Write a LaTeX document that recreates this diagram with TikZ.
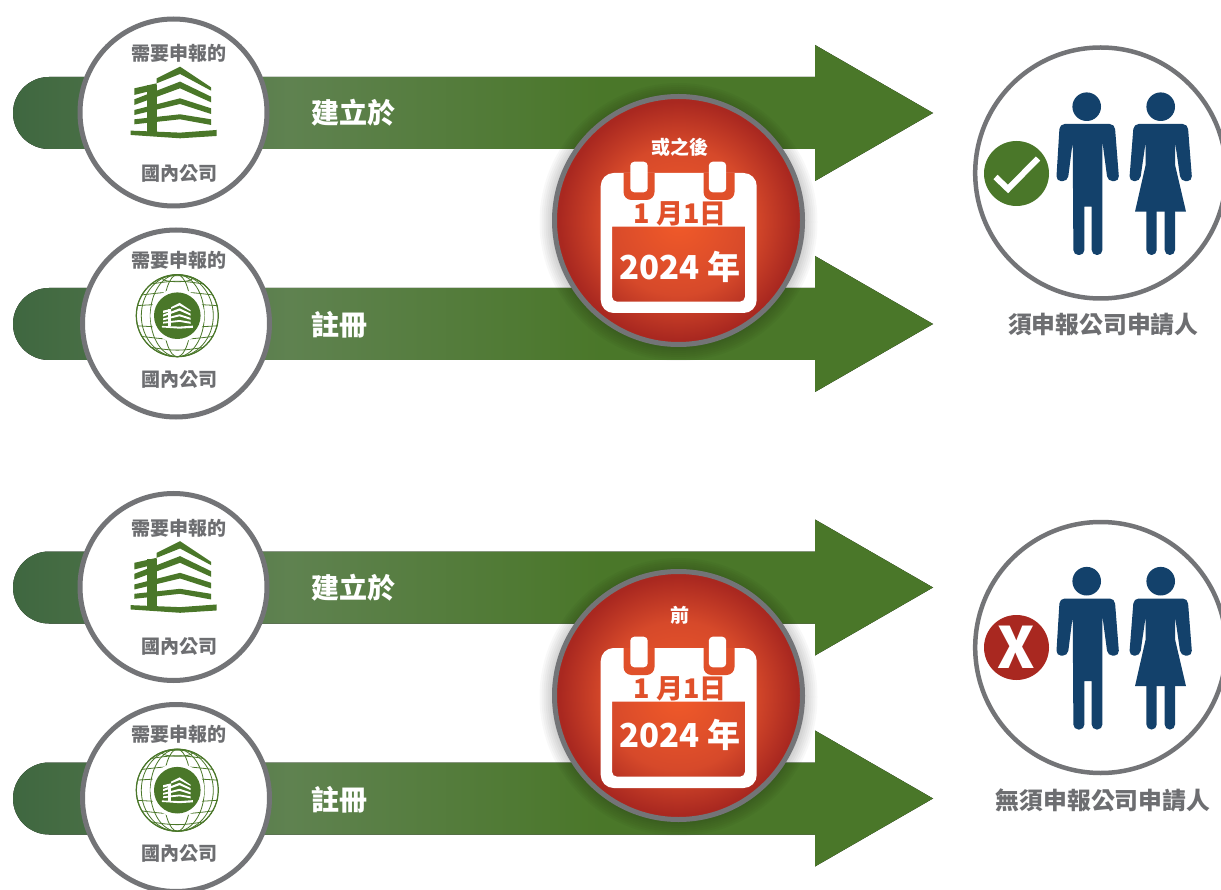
\documentclass[tikz,border=0pt]{standalone}
\usepackage{fontspec}
\setmainfont{Noto Sans CJK TC}
\usetikzlibrary{positioning}
\definecolor{leafgreen}{HTML}{4A7729}
\definecolor{barleft}{HTML}{3F6740}
\definecolor{barmid}{HTML}{5F8250}
\definecolor{ringgray}{HTML}{737477}
\definecolor{textgray}{HTML}{6D6E71}
\definecolor{dateorange}{HTML}{F15A29}
\definecolor{datemid}{HTML}{D6492A}
\definecolor{datered}{HTML}{A92820}
\definecolor{tabred}{HTML}{E0502A}
\definecolor{peopleblue}{HTML}{13416B}
\pgfdeclarehorizontalshading{barshade}{100bp}{
  color(0bp)=(barleft);
  color(25bp)=(barleft);
  color(40bp)=(barmid);
  color(57bp)=(leafgreen);
  color(100bp)=(leafgreen)}
\pgfdeclareradialshading{dateshade}{\pgfpoint{0bp}{0bp}}{
  color(0bp)=(dateorange);
  color(15bp)=(datemid);
  color(24bp)=(datered);
  color(50bp)=(datered)}
\tikzset{
    ring/.style = {circle, draw=ringgray, line width=5pt, fill=white, inner sep=0pt, minimum size=187pt},
    person ring/.style = {ring, line width=4.5pt, minimum size=251pt},
    date ring/.style = {circle, draw=ringgray, line width=5pt, inner sep=0pt, minimum size=248pt,
      shading=dateshade},
    badge/.style = {circle, inner sep=0pt, minimum size=65pt, text=white},
    small label/.style = {text=textgray, font=\bfseries\fontsize{19}{19}\selectfont, inner sep=0pt},
    date label/.style = {text=white, font=\bfseries\fontsize{19}{19}\selectfont, inner sep=0pt},
    bar label/.style = {text=white, font=\bfseries\fontsize{28}{28}\selectfont, inner sep=0pt},
    big label/.style = {text=textgray, font=\bfseries\fontsize{23.8}{24}\selectfont, inner sep=0pt},
    year label/.style = {text=white, font=\bfseries\fontsize{33}{33}\selectfont, inner sep=0pt},
    pics/bararrow/.style = {code={
      \fill[shading=barshade, shading angle=0]
        (49,-36) -- (815,-36) -- (815,-68) -- (933,0) -- (815,68) -- (815,36) -- (49,36)
        arc[start angle=270, end angle=90, radius=36pt] -- cycle;
    }},
    % drawn in units of a third of a pixel, round its own middle
    pics/building/.style = {code={
      \begin{scope}[shift={(-521,-307)}]
        \fill[#1] (470,235) -- (540,200) -- (633,262) -- (633,272) -- (540,222) -- (470,250) -- cycle;
        \fill[#1] (403,265) -- (470,250) -- (470,268) -- (403,285) -- cycle;
        \fill[#1] (403,298) -- (540,245) -- (633,290) -- (633,307) -- (540,265) -- (403,315) -- cycle;
        \fill[#1] (403,330) -- (540,295) -- (633,325) -- (633,342) -- (540,312) -- (403,345) -- cycle;
        \fill[#1] (403,358) -- (540,343) -- (633,358) -- (633,375) -- (540,358) -- (403,373) -- cycle;
        \fill[#1] (440,255) rectangle (470,395);
        \fill[#1] (392,392) -- (540,398) -- (650,390) -- (650,408) -- (540,415) -- (392,405) -- cycle;
      \end{scope}
    }},
    pics/globe/.style = {code={
      \begin{scope}
        \clip (0,0) circle[radius=41.5pt];
        \foreach \wd in {41,36,27,14}
          \draw[leafgreen, line width=.8pt] (0,0) ellipse[x radius=\wd pt, y radius=41pt];
        \foreach \ht in {-37,-29,-20,-10,10,20,29,37}
          \draw[leafgreen, line width=.8pt] (-42,\ht) .. controls (0,\ht+\ht*.25) .. (42,\ht);
        \draw[leafgreen, line width=.8pt] (0,-37) ellipse[x radius=15pt, y radius=3pt];
      \end{scope}
      \draw[leafgreen, line width=1.2pt] (0,0) circle[radius=41pt];
      \fill[white] (0,0) circle[radius=27pt];
      \fill[leafgreen] (0,0) circle[radius=23.3pt];
      \pic[scale=.12] at (0,0) {building=white};
    }},
    pics/calendar/.style = {code={
      \fill[white, even odd rule, rounded corners=13pt] (-77.8,-47.5) rectangle (78.2,92.5)
        [sharp corners] (-66.5,6.2) -- (66.5,6.2) [rounded corners=5pt] -- (66.5,81.2) -- (-66.5,81.2) [sharp corners] -- cycle;
      \foreach \mid in {-39.5,40.5} {
        \fill[tabred, rounded corners=8pt] (\mid-15.5,-47.5) [sharp corners] -- (\mid-15.5,-47.5) [rounded corners=8pt] -- (\mid-15.5,-20.5) -- (\mid+15.5,-20.5) [sharp corners] -- (\mid+15.5,-47.5) -- cycle;
      }
      \foreach \mid in {-39.5,39} {
        \fill[white, rounded corners=4pt] (\mid-8.7,-58.8) rectangle (\mid+8.7,-28.2);
      }
      \node [text=tabred, font=\bfseries\fontsize{27}{27}\selectfont, inner sep=0pt] (-day) at (1.5,-7) {1 月1日};
    }},
    pics/man/.style = {code={
      \fill[peopleblue] (0,0) circle[radius=14.3pt];
      \fill[peopleblue, rounded corners=5pt] (-27,17.3) -- (28,17.3) -- (32.5,74.5) -- (21,74.5) [sharp corners] -- (15.7,35)
        [rounded corners=5pt] -- (15.7,148.3) -- (5,148.3) [sharp corners] -- (5,100) -- (-2.3,100)
        [rounded corners=5pt] -- (-2.3,148.3) -- (-13.3,148.3) [sharp corners] -- (-14,35)
        [rounded corners=5pt] -- (-19,74.5) -- (-30.5,74.5) -- cycle;
    }},
    pics/woman/.style = {code={
      \fill[peopleblue] (0,0) circle[radius=14.3pt];
      \fill[peopleblue, rounded corners=5pt] (-27,17.3) -- (27,17.3) -- (31.5,74.5) -- (20,74.5) [sharp corners] -- (14.3,35)
        -- (14.3,58) -- (25.3,105) -- (-25.7,105) -- (-15,58) -- (-15,35)
        [rounded corners=5pt] -- (-20.7,74.5) -- (-31.5,74.5) -- cycle;
      \fill[peopleblue, rounded corners=5pt] (-14.3,100) -- (-14.3,148.3) -- (-4,148.3) -- (-4,100) [sharp corners] -- cycle;
      \fill[peopleblue, rounded corners=5pt] (4,100) -- (4,148.3) -- (14.3,148.3) -- (14.3,100) [sharp corners] -- cycle;
    }},
}
\begin{document}
\begin{tikzpicture}[x=1pt, y=-1pt, on grid]
    \useasboundingbox (0,0) rectangle (1221,890);
    \fill[white] (0,0) rectangle (1221,890);

    \pic (bar1) at (0,113) {bararrow};
    \pic (bar2) at (0,324) {bararrow};
    \pic (bar3) at (0,587.5) {bararrow};
    \pic (bar4) at (0,798.5) {bararrow};

    \node [bar label] (built1) at (353,112.5) {建立於};
    \node [bar label] (reg1) at (339,325) {註冊};
    \node [bar label] (built2) at (353,587.5) {建立於};
    \node [bar label] (reg2) at (339,800) {註冊};

    % upper group
    \node [ring] (a) at (173.5,112.5) {};
    \node [small label] (atop) [above right=59pt and 5.5pt of a] {需要申報的};
    \node [small label] (abot) [below right=61.5pt and 5.5pt of a] {國內公司};
    \pic [scale=1/3] at (173.7,102.3) {building=leafgreen};
    \node [ring] (b) at (176,323.5) {};
    \node [small label] (btop) [above right=63.5pt and 3pt of b] {需要申報的};
    \node [small label] (bbot) [below right=56.5pt and 3pt of b] {國內公司};
    \pic at (177.3,315.7) {globe};

    % lower group
    \node [ring] (c) at (173.5,587) {};
    \node [small label] (ctop) [above right=59pt and 5.5pt of c] {需要申報的};
    \node [small label] (cbot) [below right=60pt and 5.5pt of c] {國內公司};
    \pic [scale=1/3] at (173.7,576.8) {building=leafgreen};
    \node [ring] (d) at (176,798) {};
    \node [small label] (dtop) [above right=64pt and 3pt of d] {需要申報的};
    \node [small label] (dbot) [below right=56pt and 3pt of d] {國內公司};
    \pic at (177.3,790.2) {globe};

    % soft shadow round the date discs
    \foreach \cy in {222,697}
      \foreach \rad in {127,129,...,139}
        \fill[black, opacity=.028] (678.5,\cy) circle[radius=\rad pt];

    \node [date ring] (date1) at (678.5,220.5) {};
    \pic (cal1) at (date1) {calendar};
    \node [year label] (year1) [below right=46pt and 1.5pt of date1] {2024 年};
    \node [date label] (after) [above right=73.5pt and 1.5pt of date1] {或之後};
    \node [date ring] (date2) at (678.5,695.5) {};
    \pic (cal2) at (date2) {calendar};
    \node [year label] (year2) [below right=39.5pt and 1.5pt of date2] {2024 年};
    \node [date label] (before) [above right=80.5pt and 1.5pt of date2] {前};

    % people
    \node [person ring] (p) at (1100.7,173) {};
    \pic at (1086.7,106.7) {man};
    \pic at (1160.7,106.7) {woman};
    \node [badge, fill=leafgreen] (yes) at (1016.5,173.5) {};
    \draw[white, line width=6pt] ([shift={(-21,3.5)}]yes.center) -- ([shift={(-8.5,15.5)}]yes.center) -- ([shift={(21.5,-15)}]yes.center);
    \node [big label] (must) [below right=152pt and 2.6pt of p] {須申報公司申請人};

    \node [person ring] (q) at (1100.7,647.5) {};
    \pic at (1086.7,581.2) {man};
    \pic at (1160.7,581.2) {woman};
    \node [badge, fill=datered, font=\bfseries\fontsize{57}{57}\selectfont] (no) at (1016.5,647.5) {X};
    \node [big label] (exempt) [below right=153pt and 2.3pt of q] {無須申報公司申請人};
\end{tikzpicture}
\end{document}
